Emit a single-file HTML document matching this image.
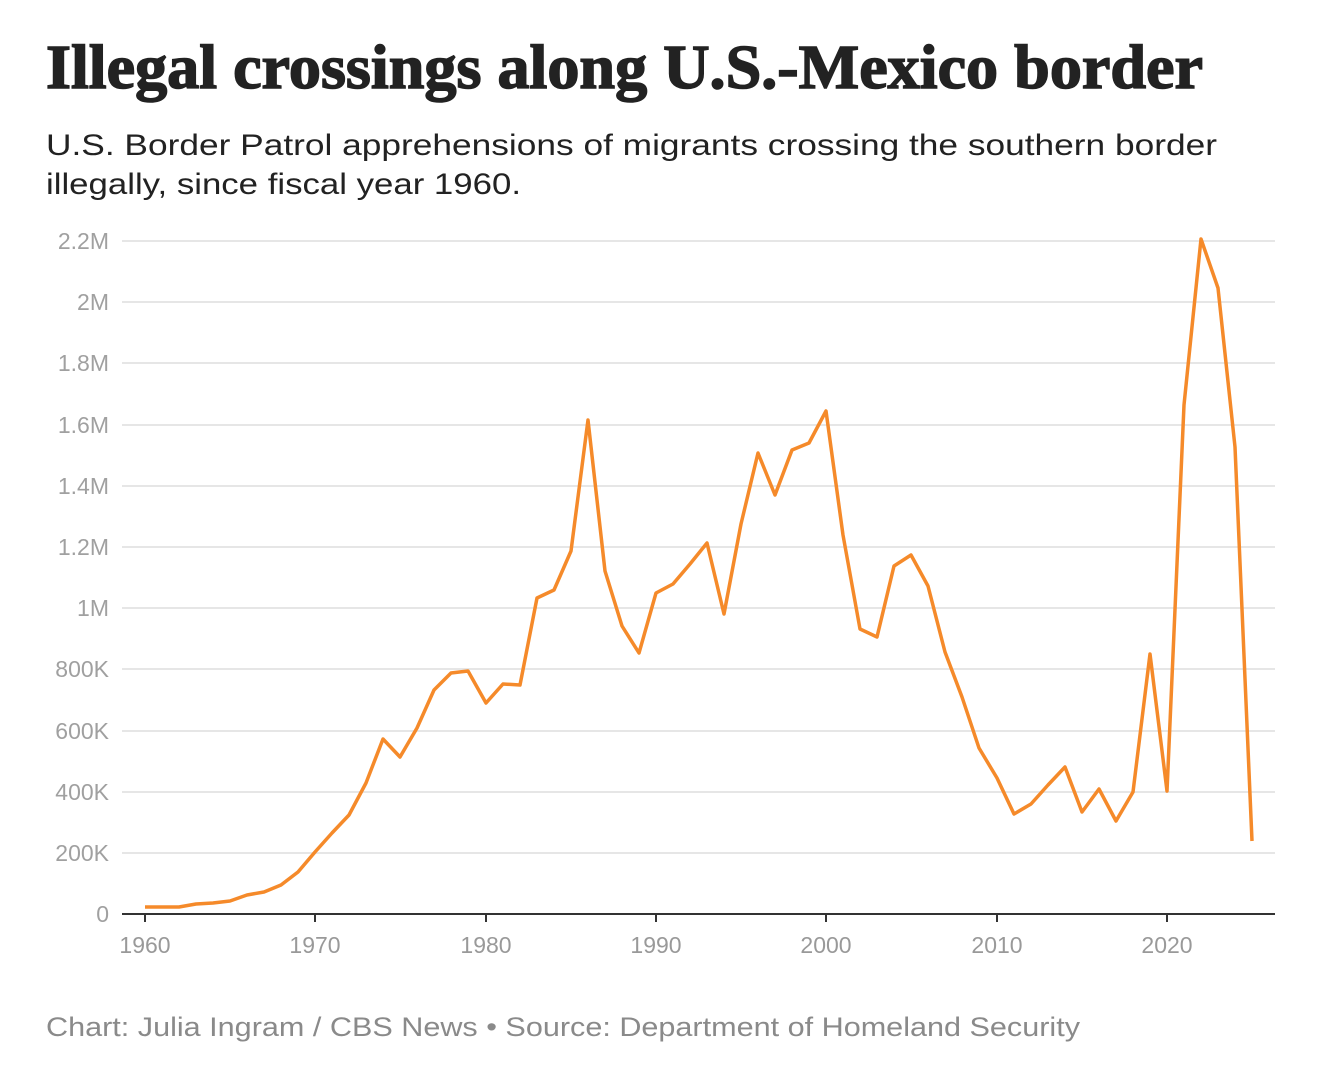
<!DOCTYPE html>
<html><head><meta charset="utf-8"><style>html,body{margin:0;padding:0;background:#fff;}svg{display:block}</style></head>
<body>
<svg width="1319" height="1073" viewBox="0 0 1319 1073" xmlns="http://www.w3.org/2000/svg">
<rect width="1319" height="1073" fill="#fff"/>
<text x="46" y="88" font-family="Liberation Serif, serif" font-weight="bold" font-size="62" fill="#222" stroke="#222" stroke-width="1.5" textLength="1157" lengthAdjust="spacingAndGlyphs">Illegal crossings along U.S.-Mexico border</text>
<text x="46" y="155" font-family="Liberation Sans, sans-serif" font-size="30" fill="#222" textLength="1171" lengthAdjust="spacingAndGlyphs">U.S. Border Patrol apprehensions of migrants crossing the southern border</text>
<text x="46" y="194" font-family="Liberation Sans, sans-serif" font-size="30" fill="#222" textLength="475" lengthAdjust="spacingAndGlyphs">illegally, since fiscal year 1960.</text>
<g stroke="#e6e6e6" stroke-width="2">
<line x1="122" x2="1275" y1="241" y2="241"/><line x1="122" x2="1275" y1="302" y2="302"/><line x1="122" x2="1275" y1="363" y2="363"/><line x1="122" x2="1275" y1="425" y2="425"/><line x1="122" x2="1275" y1="486" y2="486"/><line x1="122" x2="1275" y1="547" y2="547"/><line x1="122" x2="1275" y1="608" y2="608"/><line x1="122" x2="1275" y1="669" y2="669"/><line x1="122" x2="1275" y1="731" y2="731"/><line x1="122" x2="1275" y1="792" y2="792"/><line x1="122" x2="1275" y1="853" y2="853"/>
</g>
<line x1="122" x2="1275" y1="914" y2="914" stroke="#333" stroke-width="2"/>
<g font-family="Liberation Sans, sans-serif" font-size="23" fill="#a0a0a0" text-anchor="end">
<text x="109" y="249">2.2M</text><text x="109" y="310">2M</text><text x="109" y="371">1.8M</text><text x="109" y="433">1.6M</text><text x="109" y="494">1.4M</text><text x="109" y="555">1.2M</text><text x="109" y="616">1M</text><text x="109" y="677">800K</text><text x="109" y="739">600K</text><text x="109" y="800">400K</text><text x="109" y="861">200K</text><text x="109" y="922">0</text>
</g>
<g stroke="#333" stroke-width="2">
<line x1="145" x2="145" y1="914" y2="922"/><line x1="315" x2="315" y1="914" y2="922"/><line x1="486" x2="486" y1="914" y2="922"/><line x1="656" x2="656" y1="914" y2="922"/><line x1="826" x2="826" y1="914" y2="922"/><line x1="997" x2="997" y1="914" y2="922"/><line x1="1167" x2="1167" y1="914" y2="922"/>
</g>
<g font-family="Liberation Sans, sans-serif" font-size="23" fill="#999" text-anchor="middle">
<text x="145" y="953">1960</text><text x="315" y="953">1970</text><text x="486" y="953">1980</text><text x="656" y="953">1990</text><text x="826" y="953">2000</text><text x="997" y="953">2010</text><text x="1167" y="953">2020</text>
</g>
<polyline fill="none" stroke="#f58a2a" stroke-width="3.5" stroke-linejoin="round" points="145,907 162,907 179,907 196,904 213,903 230,901 247,895 264,892 281,885 298,872 315,852 332,833 349,815 366,783 383,739 400,757 417,728 434,690 451,673 468,671 486,703 503,684 520,685 537,598 554,590 571,551 588,420 605,571 622,626 639,653 656,593 673,584 690,564 707,543 724,614 741,524 758,453 775,495 792,450 809,443 826,411 843,535 860,629 877,637 894,566 911,555 928,586 945,652 962,697 979,748 997,778 1014,814 1031,804 1048,785 1065,767 1082,812 1099,789 1116,821 1133,792 1150,654 1167,791 1184,405 1201,239 1218,288 1235,447 1252,841"/>
<text x="46" y="1036" font-family="Liberation Sans, sans-serif" font-size="27" fill="#8a8a8a" textLength="1034" lengthAdjust="spacingAndGlyphs">Chart: Julia Ingram / CBS News • Source: Department of Homeland Security</text>
</svg>
</body></html>
